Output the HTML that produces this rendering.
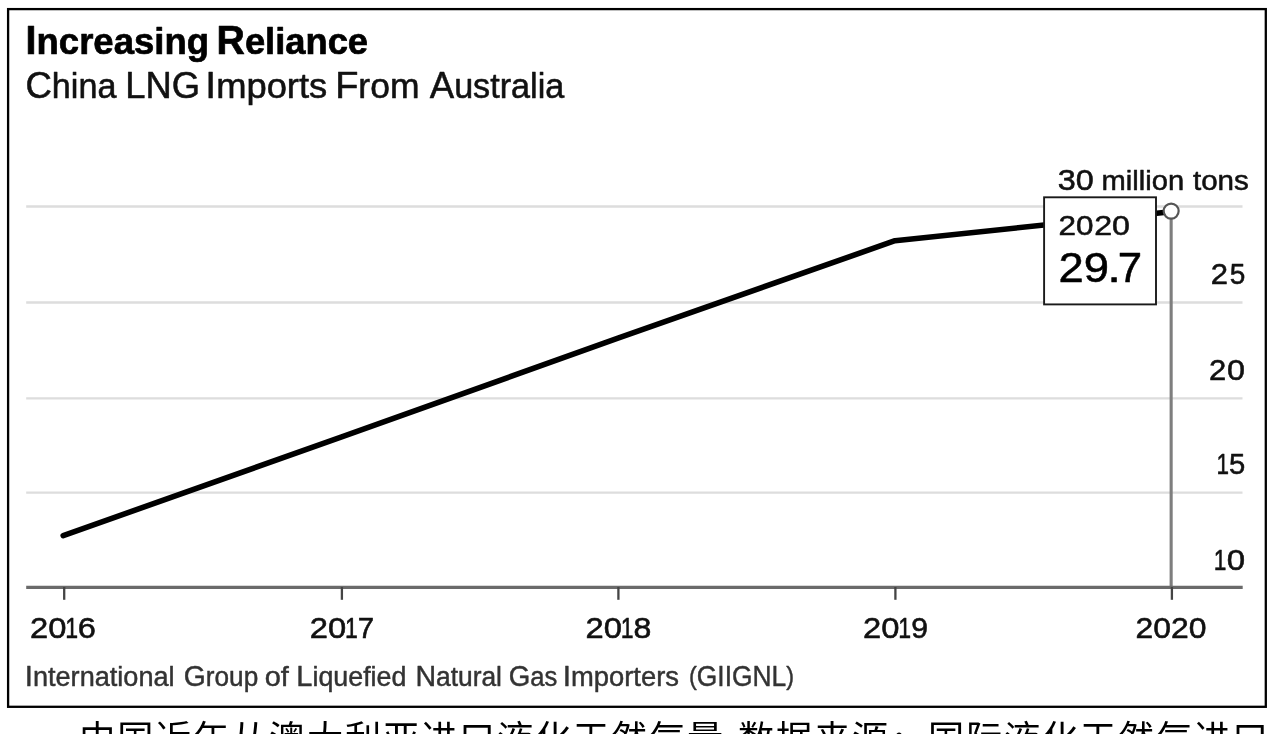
<!DOCTYPE html>
<html lang="zh-CN">
<head>
<meta charset="utf-8">
<title>Increasing Reliance - China LNG Imports From Australia</title>
<style>
  html, body { margin: 0; padding: 0; background: #fff; width: 1280px; height: 734px; overflow: hidden; }
  body { font-family: "Liberation Sans", "Noto Sans CJK SC", sans-serif; }
  #page { position: relative; width: 1280px; height: 734px; overflow: hidden; background: #fff; }
  #chart { position: absolute; left: 0; top: 0; width: 1280px; height: 734px; display: block; filter: blur(0.75px); }
  #chart text { font-family: "Liberation Sans", sans-serif; stroke-linejoin: round; }
  #caption { position: absolute; left: 79.15px; top: 712px; margin: 0; white-space: nowrap;
             font-family: "Liberation Sans", "Noto Sans CJK SC", sans-serif;
             font-size: 36.2px; line-height: 56px; letter-spacing: 1.8px; word-spacing: 1.3px; color: #000; }
  #caption .colon { position: relative; top: 4px; }
</style>
</head>
<body>
<div id="page">
<svg id="chart" width="1280" height="734" viewBox="0 0 1280 734">
  <!-- frame -->
  <rect x="8.1" y="9.1" width="1257.7" height="697.7" fill="#fff" stroke="#000" stroke-width="2.3"/>

  <!-- titles -->
  <text y="54" font-size="37.2" font-weight="bold" fill="#000" stroke="#000" stroke-width="0.7"><tspan x="25.59" textLength="183.48" lengthAdjust="spacingAndGlyphs"><tspan font-size="40.2">I</tspan>ncreasing</tspan> <tspan x="216.55" textLength="151.52" lengthAdjust="spacingAndGlyphs"><tspan font-size="40.2">R</tspan>eliance</tspan></text>
  <text y="98" font-size="34.6" fill="#111" stroke="#111" stroke-width="0.55"><tspan x="25.47" textLength="90.95" lengthAdjust="spacingAndGlyphs"><tspan font-size="37">C</tspan>hina</tspan> <tspan x="125.30" textLength="74.73" lengthAdjust="spacingAndGlyphs"><tspan font-size="37">LNG</tspan></tspan> <tspan x="205.33" textLength="121.94" lengthAdjust="spacingAndGlyphs"><tspan font-size="37">I</tspan>mports</tspan> <tspan x="335.18" textLength="84.29" lengthAdjust="spacingAndGlyphs"><tspan font-size="37">F</tspan>rom</tspan> <tspan x="429.75" textLength="134.51" lengthAdjust="spacingAndGlyphs"><tspan font-size="37">A</tspan>ustralia</tspan></text>

  <!-- gridlines -->
  <g stroke="#dddddd" stroke-width="2.4">
    <line x1="26.2" y1="206.5" x2="1242.5" y2="206.5"/>
    <line x1="26.2" y1="302.5" x2="1242.5" y2="302.5"/>
    <line x1="26.2" y1="398.4" x2="1242.5" y2="398.4"/>
    <line x1="26.2" y1="492.6" x2="1242.5" y2="492.6"/>
  </g>

  <!-- y axis labels -->
  <text y="190" font-size="28.4" fill="#111" stroke="#111" stroke-width="0.55"><tspan x="1057.77" textLength="36.01" lengthAdjust="spacingAndGlyphs"><tspan font-size="29.2">30</tspan></tspan> <tspan x="1101.56" textLength="82.55" lengthAdjust="spacingAndGlyphs">million</tspan> <tspan x="1192.94" textLength="55.92" lengthAdjust="spacingAndGlyphs">tons</tspan></text>
  <text y="284" font-size="29.2" fill="#111" stroke="#111" stroke-width="0.55"><tspan x="1210.87" textLength="17.24" lengthAdjust="spacingAndGlyphs">2</tspan><tspan x="1229.68" textLength="15.56" lengthAdjust="spacingAndGlyphs">5</tspan></text>
  <text y="380" font-size="29.5" fill="#111" stroke="#111" stroke-width="0.55"><tspan x="1209.09" textLength="17.24" lengthAdjust="spacingAndGlyphs">2</tspan><tspan x="1226.90" textLength="18.01" lengthAdjust="spacingAndGlyphs">0</tspan></text>
  <text y="474" font-size="29.2" fill="#111" stroke="#111" stroke-width="0.55"><tspan x="1216.46" textLength="12.49" lengthAdjust="spacingAndGlyphs">1</tspan><tspan x="1229.05" textLength="16.23" lengthAdjust="spacingAndGlyphs">5</tspan></text>
  <text y="570" font-size="29" fill="#111" stroke="#111" stroke-width="0.55"><tspan x="1213.83" textLength="12.66" lengthAdjust="spacingAndGlyphs">1</tspan><tspan x="1226.75" textLength="18.37" lengthAdjust="spacingAndGlyphs">0</tspan></text>

  <!-- data line -->
  <polyline points="63.2,535.6 341,437.2 618,338.2 895,240.7 1171,211.7" fill="none" stroke="#000" stroke-width="5.6" stroke-linejoin="round" stroke-linecap="round"/>

  <!-- vertical marker line -->
  <line x1="1171.15" y1="214" x2="1171.15" y2="588" stroke="#7e7e7e" stroke-width="3.1"/>

  <!-- x axis -->
  <line x1="26.2" y1="587.4" x2="1242.7" y2="587.4" stroke="#6a6a6a" stroke-width="3.3"/>
  <g stroke="#444" stroke-width="2.3">
    <line x1="64.2" y1="587" x2="64.2" y2="599.8"/>
    <line x1="341.9" y1="587" x2="341.9" y2="599.8"/>
    <line x1="618.4" y1="587" x2="618.4" y2="599.8"/>
    <line x1="895.4" y1="587" x2="895.4" y2="599.8"/>
    <line x1="1171.9" y1="587" x2="1171.9" y2="599.8"/>
  </g>
  <text y="638" font-size="28.9" fill="#111" stroke="#111" stroke-width="0.55"><tspan x="30.04" textLength="36.37" lengthAdjust="spacingAndGlyphs">20</tspan><tspan x="65.30" textLength="12.86" lengthAdjust="spacingAndGlyphs">1</tspan><tspan x="77.89" textLength="18.12" lengthAdjust="spacingAndGlyphs">6</tspan></text>
  <text y="638" font-size="28.9" fill="#111" stroke="#111" stroke-width="0.55"><tspan x="309.84" textLength="36.37" lengthAdjust="spacingAndGlyphs">20</tspan><tspan x="345.10" textLength="12.86" lengthAdjust="spacingAndGlyphs">1</tspan><tspan x="357.83" textLength="16.37" lengthAdjust="spacingAndGlyphs">7</tspan></text>
  <text y="638" font-size="28.9" fill="#111" stroke="#111" stroke-width="0.55"><tspan x="585.49" textLength="36.37" lengthAdjust="spacingAndGlyphs">20</tspan><tspan x="620.75" textLength="12.86" lengthAdjust="spacingAndGlyphs">1</tspan><tspan x="633.64" textLength="17.86" lengthAdjust="spacingAndGlyphs">8</tspan></text>
  <text y="638" font-size="28.9" fill="#111" stroke="#111" stroke-width="0.55"><tspan x="862.99" textLength="36.37" lengthAdjust="spacingAndGlyphs">20</tspan><tspan x="898.25" textLength="12.86" lengthAdjust="spacingAndGlyphs">1</tspan><tspan x="911.20" textLength="16.82" lengthAdjust="spacingAndGlyphs">9</tspan></text>
  <text y="638" font-size="28.9" fill="#111" stroke="#111" stroke-width="0.55"><tspan x="1135.52" textLength="35.46" lengthAdjust="spacingAndGlyphs">20</tspan><tspan x="1171.12" textLength="35.46" lengthAdjust="spacingAndGlyphs">20</tspan></text>

  <!-- tooltip -->
  <rect x="1044.1" y="197.3" width="111.9" height="107.1" fill="#fff" stroke="#1a1a1a" stroke-width="1.9"/>
  <text y="235" font-size="27.8" fill="#111" stroke="#111" stroke-width="0.55"><tspan x="1058.59" textLength="34.96" lengthAdjust="spacingAndGlyphs">20</tspan><tspan x="1094.15" textLength="35.82" lengthAdjust="spacingAndGlyphs">20</tspan></text>
  <text y="282" font-size="42.6" fill="#000" stroke="#000" stroke-width="0.55"><tspan x="1058.53" textLength="50.51" lengthAdjust="spacingAndGlyphs">29</tspan><tspan x="1107.15" textLength="13.71" lengthAdjust="spacingAndGlyphs">.</tspan><tspan x="1117.84" textLength="24.36" lengthAdjust="spacingAndGlyphs">7</tspan></text>

  <!-- marker -->
  <circle cx="1171.15" cy="211.1" r="7.5" fill="#fff" stroke="#555" stroke-width="2.2"/>

  <!-- source -->
  <text y="686" font-size="26.8" fill="#333" stroke="#333" stroke-width="0.45"><tspan x="24.77" textLength="149.86" lengthAdjust="spacingAndGlyphs"><tspan font-size="29">I</tspan>nternational</tspan> <tspan x="183.78" textLength="74.45" lengthAdjust="spacingAndGlyphs"><tspan font-size="29">G</tspan>roup</tspan> <tspan x="264.72" textLength="24.13" lengthAdjust="spacingAndGlyphs">of</tspan> <tspan x="296.35" textLength="110.07" lengthAdjust="spacingAndGlyphs"><tspan font-size="29">L</tspan>iquefied</tspan> <tspan x="415.39" textLength="86.59" lengthAdjust="spacingAndGlyphs"><tspan font-size="29">N</tspan>atural</tspan> <tspan x="508.81" textLength="48.53" lengthAdjust="spacingAndGlyphs"><tspan font-size="29">G</tspan>as</tspan> <tspan x="562.75" textLength="116.27" lengthAdjust="spacingAndGlyphs"><tspan font-size="29">I</tspan>mporters</tspan> <tspan x="689.06" textLength="105.05" lengthAdjust="spacingAndGlyphs"><tspan font-size="25.7" dy="-1">(</tspan><tspan font-size="29" dy="1">GIIGNL</tspan><tspan font-size="25.7" dy="-1">)</tspan></tspan></text>
</svg>
<p id="caption">中国近年从澳大利亚进口液化天然气量 数据来源<span class="colon">：</span>国际液化天然气进口</p>
</div>
</body>
</html>
